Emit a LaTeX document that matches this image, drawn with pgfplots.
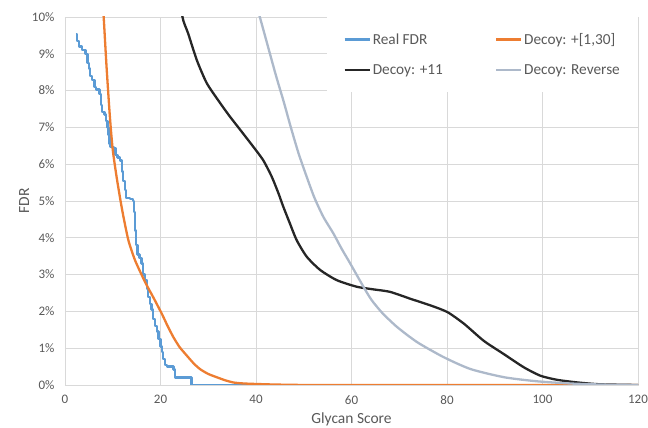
\documentclass[border=0pt]{standalone}
\usepackage{fontspec}
\setmainfont{Carlito}
\usepackage{pgfplots}
\pgfplotsset{compat=1.18}
\definecolor{cblue}{HTML}{5B9BD5}
\definecolor{corange}{HTML}{ED7D31}
\definecolor{cblack}{HTML}{262626}
\definecolor{cgrey}{HTML}{ADB9CA}
\definecolor{ctext}{HTML}{595959}
\definecolor{cgrid}{HTML}{D9D9D9}
\begin{document}
\begin{tikzpicture}[x=1pt,y=1pt]
\useasboundingbox (-65pt,-43pt) rectangle (583pt,385pt);
\begin{axis}[
  at={(0,0)}, anchor=south west,
  scale only axis, width=573pt, height=368pt,
  xmin=0, xmax=120, ymin=0, ymax=10,
  xtick={0,20,...,120}, ytick={0,1,...,10},
  yticklabels={0\%,1\%,2\%,3\%,4\%,5\%,6\%,7\%,8\%,9\%,10\%},
  /pgf/number format/assume math mode=true,
  tick style={draw=none},
  grid=major, grid style={draw=cgrid, line width=0.8pt},
  axis line style={draw=cgrid, line width=0.8pt},
  ticklabel style={font=\fontsize{13}{15}\selectfont, text=ctext},
  xticklabel style={yshift=-7pt},
  yticklabel style={xshift=-7pt},
  xlabel={Glycan Score}, ylabel={FDR},
  label style={font=\fontsize{15.5}{17}\selectfont, text=ctext},
  xlabel style={yshift=-1.5pt},
  ylabel style={yshift=-4pt},
  legend columns=2,
  legend style={at={(rel axis cs:1,1)}, anchor=north east, fill=white, draw=none,
    font=\fontsize{15.3}{17}\selectfont, text=ctext,
    inner xsep=16pt, inner ysep=14pt,
    /tikz/every even column/.append style={column sep=50pt},
    row sep=14.5pt},
  legend cell align=left,
  legend image code/.code={\draw[#1] (0pt,0pt) -- (25pt,0pt);},
  every axis plot/.append style={line width=2.3pt, line join=round},
]
\addplot[cblue, const plot mark left] coordinates {
(2.3,9.53)(2.5,9.35)(3.0,9.2)(3.5,9.1)(4.3,9.0)(4.7,8.75)(5.0,8.6)(5.3,8.4)(5.6,8.28)(6.2,8.1)(6.5,8.03)(7.2,7.9)(7.5,7.6)(7.8,7.42)(8.3,7.35)(8.6,7.18)(8.9,7.0)(9.1,6.8)(9.3,6.55)(9.5,6.47)(10.3,6.44)(10.6,6.25)(11.0,6.18)(11.5,6.1)(11.9,5.8)(12.2,5.55)(12.5,5.3)(12.8,5.08)(13.6,5.05)(14.2,5.0)(14.5,4.7)(14.7,4.2)(14.9,3.8)(15.2,3.55)(15.6,3.45)(16.0,3.3)(16.3,3.0)(16.8,2.85)(17.1,2.6)(17.4,2.4)(17.8,2.2)(18.1,2.05)(18.5,1.8)(18.8,1.6)(19.2,1.45)(19.6,1.25)(20.0,1.05)(20.3,0.9)(20.5,0.7)(20.9,0.55)(21.4,0.5)(22.7,0.42)(23.0,0.2)(26.5,0)(120,0)
};
\addlegendentry{Real FDR}
\addplot[corange, smooth, tension=0.4] coordinates {
(7.6,11)(8.1,10)(8.7,8.65)(9.4,7.29)(10.0,6.39)(10.8,5.66)(11.6,5.03)(12.2,4.6)(13.3,3.92)(14.7,3.38)(16.8,2.79)(18.5,2.38)(20.3,1.93)(21.5,1.6)(22.7,1.30)(24,1.03)(25.5,0.80)(27,0.58)(28.3,0.43)(30,0.30)(31.8,0.21)(33.5,0.13)(35.2,0.07)(37,0.045)(39.5,0.03)(45,0.01)(55,0.0)(120,0)
};
\addlegendentry{Decoy: +[1,30]}
\addplot[cblack, smooth, tension=0.4] coordinates {
(23.8,11)(24.6,10)(25.8,9.55)(27.6,8.83)(29.7,8.2)(32.5,7.66)(34.5,7.3)(36.6,6.95)(39.4,6.48)(41.5,6.11)(43.3,5.66)(44.7,5.21)(45.7,4.85)(47.1,4.39)(48.5,3.94)(50.6,3.49)(53.4,3.13)(56.9,2.85)(61.1,2.67)(64.5,2.60)(68.1,2.53)(72.4,2.34)(76.6,2.16)(80.1,1.98)(83.6,1.66)(87.7,1.20)(91.9,0.84)(96.1,0.48)(99.6,0.25)(103.1,0.14)(107.3,0.07)(112,0.02)(120,0)
};
\addlegendentry{Decoy: +11}
\addplot[cgrey, smooth, tension=0.4] coordinates {
(38.6,11)(40.8,10)(42.5,9.2)(44.2,8.4)(45.8,7.7)(47.3,7.0)(48.9,6.3)(50.5,5.7)(52.2,5.1)(54.1,4.57)(56.2,4.12)(57.9,3.71)(59.7,3.31)(62.5,2.67)(64.2,2.31)(66.5,1.95)(69.6,1.57)(73.8,1.16)(79.4,0.75)(85.0,0.43)(92.0,0.21)(98.9,0.10)(106,0.04)(113,0.01)(120,0)
};
\addlegendentry{Decoy: Reverse}
\end{axis}
\end{tikzpicture}
\end{document}
